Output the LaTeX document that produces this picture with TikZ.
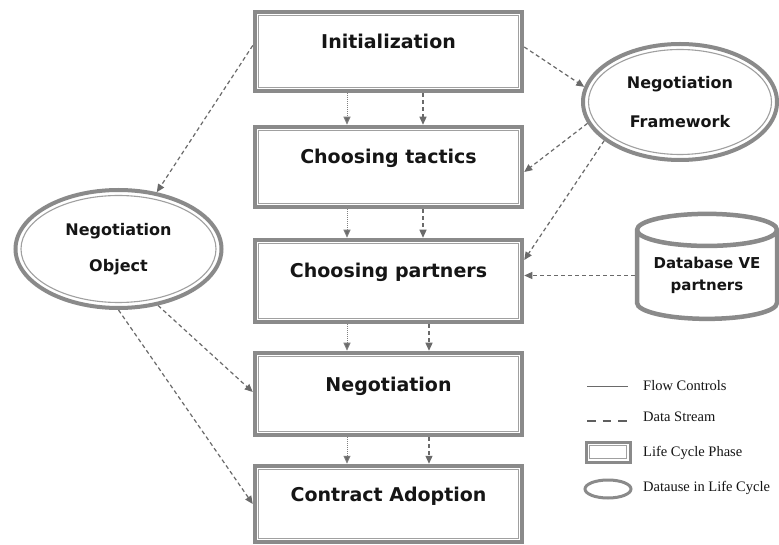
\documentclass[tikz,border=0pt]{standalone}
\usepackage{fontspec}
\setmainfont{DejaVu Sans}
\newfontfamily\legendfont{Liberation Serif}
\usetikzlibrary{arrows.meta,shapes.geometric,calc}

\definecolor{edge}{HTML}{8A8A8A}
\definecolor{inneredge}{HTML}{A0A0A0}
\definecolor{arrowclr}{HTML}{6A6A6A}
\definecolor{txt}{HTML}{151515}

\tikzset{
  x=1pt, y=1pt,
  phasebox/.style={draw=edge, line width=4.5pt, fill=white, minimum width=267pt,
    inner sep=0pt, text=txt, font=\fontsize{19}{23}\selectfont\bfseries,
    text height=12pt, text depth=18pt},
  innerline/.style={draw=inneredge, line width=1.1pt},
  dataell/.style={ellipse, draw=edge, line width=4pt, fill=white, inner sep=0pt,
    align=center, text=txt},
  dbcyl/.style={cylinder, shape border rotate=90, draw=edge, line width=4.5pt,
    fill=white, inner sep=0pt, align=center, text=txt,
    font=\fontsize{15}{22}\selectfont\bfseries},
  flowarrow/.style={draw=arrowclr!85, line width=0.9pt, dash pattern=on 1.2pt off 0.8pt,
    -{Triangle[length=8pt,width=7pt,fill=arrowclr]}},
  dataarrow/.style={draw=arrowclr, line width=1.2pt, dash pattern=on 4pt off 3pt,
    -{Triangle[length=8pt,width=7pt,fill=arrowclr]}},
  legendtext/.style={anchor=west, inner sep=0pt, text=txt,
    font=\legendfont\fontsize{14.5}{16}\selectfont},
}

\begin{document}
\begin{tikzpicture}
\useasboundingbox[fill=white] (0,0) rectangle (779,544);

% life cycle phases
\node[phasebox, minimum height=79pt] (init)     at (388.5,492.5) {Initialization};
\node[phasebox, minimum height=80pt] (tactics)  at (388.5,377)   {Choosing tactics};
\node[phasebox, minimum height=82pt] (partners) at (388.5,263)   {Choosing partners};
\node[phasebox, minimum height=82pt] (negot)    at (388.5,150)   {Negotiation};
\node[phasebox, minimum height=76pt] (contract) at (388.5,40)    {Contract Adoption};
\foreach \n in {init,tactics,partners,negot,contract}
  \draw[innerline] ([shift={(5.5,-5.5)}]\n.north west) rectangle ([shift={(-5.5,5.5)}]\n.south east);

% data used in the life cycle
\node[dataell, minimum width=194pt, minimum height=116pt,
      font=\fontsize{16}{39}\selectfont\bfseries] (frame) at (680,442) {Negotiation\\Framework};
\draw[innerline] (frame.center) ellipse [x radius=91.5, y radius=52.5];
\node[dataell, minimum width=206pt, minimum height=118pt,
      font=\fontsize{16}{36}\selectfont\bfseries] (object) at (118.5,295) {Negotiation\\Object};
\draw[innerline] (object.center) ellipse [x radius=97.5, y radius=53.5];

\node[dbcyl, minimum width=140pt, minimum height=105pt, aspect=0.3] (db) at (707,268.5) {Database VE\\partners};

% flow controls and data streams between phases
\coordinate (fcol) at (347,0);
\coordinate (dcolA) at (423,0);
\coordinate (dcolB) at (429,0);
\draw[flowarrow] (init.south -| fcol) -- (tactics.north -| fcol);
\draw[dataarrow] (init.south -| dcolA) -- (tactics.north -| dcolA);
\draw[flowarrow] (tactics.south -| fcol) -- (partners.north -| fcol);
\draw[dataarrow] (tactics.south -| dcolA) -- (partners.north -| dcolA);
\draw[flowarrow] (partners.south -| fcol) -- (negot.north -| fcol);
\draw[dataarrow] (partners.south -| dcolB) -- (negot.north -| dcolB);
\draw[flowarrow] (negot.south -| fcol) -- (contract.north -| fcol);
\draw[dataarrow] (negot.south -| dcolB) -- (contract.north -| dcolB);

% data streams to and from the data sources
\draw[dataarrow] ([yshift=4.5]init.east) -- (frame.171);
\draw[dataarrow] (frame.193) -- ([yshift=-5]tactics.east);
\draw[dataarrow] (frame.207) -- ([yshift=21]partners.east);
\draw[dataarrow] (db.west) -- (db.west -| partners.east);
\draw[dataarrow] ([yshift=6]init.west) -- (object.56);
\draw[dataarrow] (object.305) -- ([yshift=2]negot.west);
\draw[dataarrow] (object.south) -- (contract.west);

% legend
\draw[draw=arrowclr, line width=1pt] (587,158) -- (628,158);
\node[legendtext] (lgflow) at (643,158) {Flow Controls};
\draw[draw=arrowclr!90!black, line width=1.4pt, dash pattern=on 8.5pt off 7pt] (587,123) -- (628,123);
\node[legendtext] (lgdata) at (643,127) {Data Stream};
\draw[draw=edge, line width=3pt] (586,82) rectangle (630,102);
\draw[innerline, line width=0.8pt] (589.5,85.5) rectangle (626.5,98.5);
\node[legendtext] (lgphase) at (643,91) {Life Cycle Phase};
\draw[draw=edge, line width=3pt] (608,55) ellipse [x radius=23, y radius=9];
\node[legendtext] (lgell) at (643,56) {Datause in Life Cycle};
\end{tikzpicture}
\end{document}
